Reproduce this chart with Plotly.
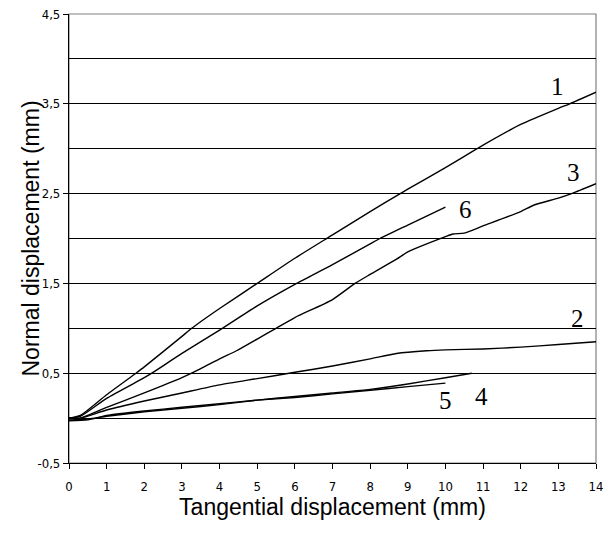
import plotly.graph_objects as go

# Curve data (tangential displacement mm, normal displacement mm)
x1 = [0, 0.3, 1, 1.78, 2, 3, 3.26, 4, 5, 6, 7, 8, 8.8, 9, 10, 10.84, 11, 12, 13, 13.3, 14]
y1 = [0, 0.03, 0.26, 0.5, 0.57, 0.91, 1.0, 1.22, 1.5, 1.78, 2.04, 2.3, 2.5, 2.55, 2.79, 3.0, 3.04, 3.27, 3.45, 3.5, 3.63]

x2 = [0, 0.3, 1, 2, 3, 4, 5, 6, 7, 8, 8.7, 9.5, 10, 11, 12, 13, 14]
y2 = [0, 0.0, 0.09, 0.19, 0.28, 0.37, 0.44, 0.51, 0.58, 0.66, 0.72, 0.75, 0.76, 0.77, 0.79, 0.82, 0.85]

x3 = [0, 0.3, 1, 2, 3, 3.5, 4, 4.45, 5, 5.5, 6, 7, 7.6, 8, 8.7, 9, 10, 10.2, 10.5, 11, 12, 12.34, 13, 13.35, 14]
y3 = [0, 0.0, 0.12, 0.28, 0.45, 0.55, 0.66, 0.75, 0.88, 1.0, 1.12, 1.32, 1.5, 1.6, 1.77, 1.85, 2.02, 2.05, 2.06, 2.14, 2.3, 2.37, 2.45, 2.5, 2.61]

x4 = [0, 0.5, 1, 2, 3, 4, 5, 6, 7, 8, 9, 10, 10.7]
y4 = [-0.02, -0.01, 0.02, 0.07, 0.11, 0.15, 0.2, 0.24, 0.28, 0.32, 0.38, 0.45, 0.5]

x5 = [0, 0.5, 1, 2, 3, 4, 5, 6, 7, 8, 9, 10]
y5 = [-0.03, -0.02, 0.03, 0.08, 0.12, 0.16, 0.2, 0.23, 0.27, 0.31, 0.35, 0.39]

x6 = [0, 0.3, 1, 2, 2.2, 3, 4, 5, 6, 7, 8, 8.26, 9, 10]
y6 = [0, 0.02, 0.22, 0.45, 0.5, 0.72, 0.98, 1.25, 1.49, 1.71, 1.94, 2.0, 2.15, 2.35]

series = [(x1, y1), (x2, y2), (x3, y3), (x4, y4), (x5, y5), (x6, y6)]

label_text = ["1", "3", "6", "2", "5", "4"]
label_x = [12.97, 13.39, 10.52, 13.52, 9.99, 10.96]
label_y = [3.69, 2.74, 2.32, 1.11, 0.2, 0.24]

x_ticks = list(range(0, 15))
y_tickvals = [-0.5, 0.5, 1.5, 2.5, 3.5, 4.5]
y_ticktext = ["-0,5", "0,5", "1,5", "2,5", "3,5", "4,5"]

x_title = "Tangential displacement (mm)"
y_title = "Normal displacement (mm)"

fig = go.Figure()
for xs, ys in series:
    fig.add_trace(go.Scatter(x=xs, y=ys, mode="lines",
                             line=dict(color="black", width=1.4, shape="spline", smoothing=0.6),
                             showlegend=False, hoverinfo="skip"))

for t, lx, ly in zip(label_text, label_x, label_y):
    fig.add_annotation(x=lx, y=ly, text=t, showarrow=False,
                       font=dict(family="Liberation Serif, Times New Roman, serif", size=25, color="black"),
                       xanchor="center", yanchor="middle")

# gray plot frame (top and right)
fig.add_shape(type="rect", xref="x domain", yref="y domain", x0=0, x1=1, y0=0, y1=1,
              line=dict(color="#808080", width=1.2), layer="below")

tickfont = dict(family="DejaVu Sans Condensed, Liberation Sans Narrow, Arial Narrow, Arial", size=13, color="black")
titlefont = dict(family="Liberation Sans, Arial", size=23, color="black")

# y-axis title placed as rotated text left of the tick labels
fig.add_annotation(xref="paper", yref="paper", x=-0.074, y=0.5, text=y_title, textangle=-90,
                   showarrow=False, font=titlefont, xanchor="center", yanchor="middle")

fig.update_layout(
    width=608, height=533,
    margin=dict(l=69, r=12, t=14, b=70, autoexpand=False),
    paper_bgcolor="white", plot_bgcolor="white",
    font=dict(family="Liberation Sans, Arial", color="black"),
    xaxis=dict(range=[0, 14], tickvals=x_ticks, ticktext=[str(v) for v in x_ticks],
               ticks="outside", ticklen=5, tickcolor="black", tickwidth=1,
               showline=True, linecolor="black", linewidth=1.2, automargin=False,
               showgrid=False, zeroline=False, tickfont=tickfont, ticklabelstandoff=6,
               title=dict(text=x_title, font=titlefont, standoff=5)),
    yaxis=dict(range=[-0.5, 4.5], tickvals=y_tickvals, ticktext=y_ticktext,
               ticks="outside", ticklen=5, tickcolor="black", tickwidth=1,
               showline=True, linecolor="black", linewidth=1.2, automargin=False,
               showgrid=True, gridcolor="black", gridwidth=1, zeroline=False,
               minor=dict(dtick=0.5, tick0=0, showgrid=True, gridcolor="black", gridwidth=1, ticks=""),
               tickfont=tickfont),
)

fig.write_html("out.html")
